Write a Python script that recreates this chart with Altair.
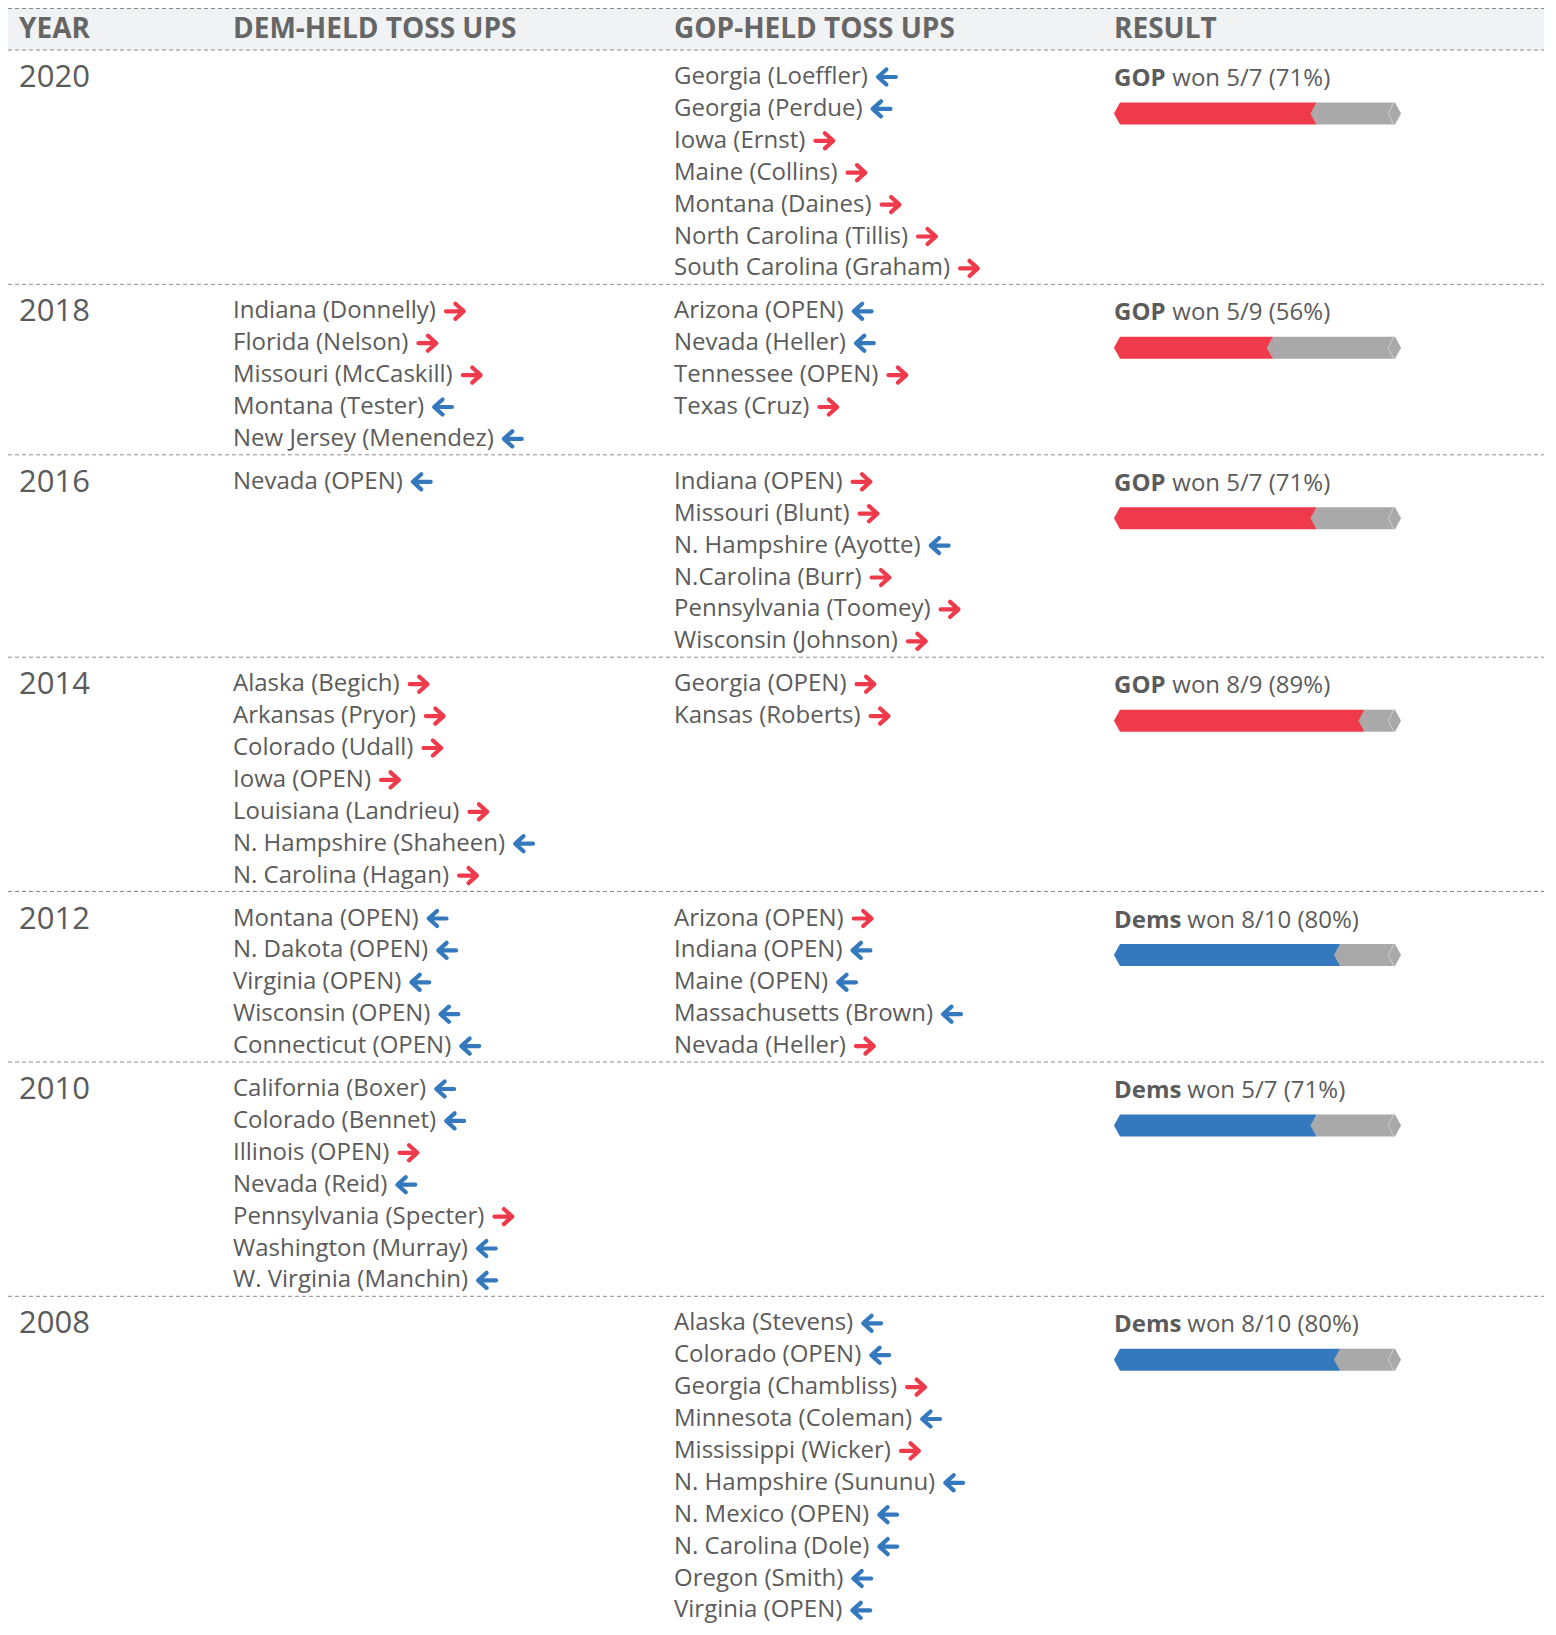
import os
import glob
import struct
import subprocess
import altair as alt
import pandas as pd

# ---------------- data ----------------
headers = ["YEAR", "DEM-HELD TOSS UPS", "GOP-HELD TOSS UPS", "RESULT"]
years = ["2020", "2018", "2016", "2014", "2012", "2010", "2008"]

# (race, who won it: "R" = GOP, "D" = Dems)
dem_2020 = []
gop_2020 = [("Georgia (Loeffler)", "D"), ("Georgia (Perdue)", "D"), ("Iowa (Ernst)", "R"),
            ("Maine (Collins)", "R"), ("Montana (Daines)", "R"), ("North Carolina (Tillis)", "R"),
            ("South Carolina (Graham)", "R")]
dem_2018 = [("Indiana (Donnelly)", "R"), ("Florida (Nelson)", "R"), ("Missouri (McCaskill)", "R"),
            ("Montana (Tester)", "D"), ("New Jersey (Menendez)", "D")]
gop_2018 = [("Arizona (OPEN)", "D"), ("Nevada (Heller)", "D"), ("Tennessee (OPEN)", "R"),
            ("Texas (Cruz)", "R")]
dem_2016 = [("Nevada (OPEN)", "D")]
gop_2016 = [("Indiana (OPEN)", "R"), ("Missouri (Blunt)", "R"), ("N. Hampshire (Ayotte)", "D"),
            ("N.Carolina (Burr)", "R"), ("Pennsylvania (Toomey)", "R"), ("Wisconsin (Johnson)", "R")]
dem_2014 = [("Alaska (Begich)", "R"), ("Arkansas (Pryor)", "R"), ("Colorado (Udall)", "R"),
            ("Iowa (OPEN)", "R"), ("Louisiana (Landrieu)", "R"), ("N. Hampshire (Shaheen)", "D"),
            ("N. Carolina (Hagan)", "R")]
gop_2014 = [("Georgia (OPEN)", "R"), ("Kansas (Roberts)", "R")]
dem_2012 = [("Montana (OPEN)", "D"), ("N. Dakota (OPEN)", "D"), ("Virginia (OPEN)", "D"),
            ("Wisconsin (OPEN)", "D"), ("Connecticut (OPEN)", "D")]
gop_2012 = [("Arizona (OPEN)", "R"), ("Indiana (OPEN)", "D"), ("Maine (OPEN)", "D"),
            ("Massachusetts (Brown)", "D"), ("Nevada (Heller)", "R")]
dem_2010 = [("California (Boxer)", "D"), ("Colorado (Bennet)", "D"), ("Illinois (OPEN)", "R"),
            ("Nevada (Reid)", "D"), ("Pennsylvania (Specter)", "R"), ("Washington (Murray)", "D"),
            ("W. Virginia (Manchin)", "D")]
gop_2010 = []
dem_2008 = []
gop_2008 = [("Alaska (Stevens)", "D"), ("Colorado (OPEN)", "D"), ("Georgia (Chambliss)", "R"),
            ("Minnesota (Coleman)", "D"), ("Mississippi (Wicker)", "R"), ("N. Hampshire (Sununu)", "D"),
            ("N. Mexico (OPEN)", "D"), ("N. Carolina (Dole)", "D"), ("Oregon (Smith)", "D"),
            ("Virginia (OPEN)", "D")]

dem_held = [dem_2020, dem_2018, dem_2016, dem_2014, dem_2012, dem_2010, dem_2008]
gop_held = [gop_2020, gop_2018, gop_2016, gop_2014, gop_2012, gop_2010, gop_2008]

result_party = ["GOP", "GOP", "GOP", "GOP", "Dems", "Dems", "Dems"]
result_won = [5, 5, 5, 8, 8, 5, 8]
result_total = [7, 9, 7, 9, 10, 7, 10]
result_pct = [71, 56, 71, 89, 80, 71, 80]

# ---------------- font metrics (to place arrows after the text) ----------------
FONT = "Open Sans"


def _font_reader(path):
    data = open(path, "rb").read()
    num = struct.unpack(">H", data[4:6])[0]
    tables = {}
    for i in range(num):
        tag, _cs, off, _ln = struct.unpack(">4sIII", data[12 + 16 * i:28 + 16 * i])
        tables[tag.decode("latin1")] = off
    upem = struct.unpack(">H", data[tables["head"] + 18:tables["head"] + 20])[0]
    nhm = struct.unpack(">H", data[tables["hhea"] + 34:tables["hhea"] + 36])[0]
    hm = tables["hmtx"]
    adv = [struct.unpack(">H", data[hm + 4 * i:hm + 4 * i + 2])[0] for i in range(nhm)]
    cm = tables["cmap"]
    n = struct.unpack(">H", data[cm + 2:cm + 4])[0]
    sub = None
    for i in range(n):
        pid, eid, off = struct.unpack(">HHI", data[cm + 4 + 8 * i:cm + 12 + 8 * i])
        s = cm + off
        if struct.unpack(">H", data[s:s + 2])[0] == 4 and pid in (0, 3):
            sub = s
            break
    segx2 = struct.unpack(">H", data[sub + 6:sub + 8])[0]
    seg = segx2 // 2
    ends = struct.unpack(">%dH" % seg, data[sub + 14:sub + 14 + segx2])
    so = sub + 16 + segx2
    starts = struct.unpack(">%dH" % seg, data[so:so + segx2])
    do = so + segx2
    deltas = struct.unpack(">%dh" % seg, data[do:do + segx2])
    ro = do + segx2
    ros = struct.unpack(">%dH" % seg, data[ro:ro + segx2])

    def gid(c):
        for k in range(seg):
            if ends[k] >= c:
                if starts[k] > c:
                    return 0
                if ros[k] == 0:
                    return (c + deltas[k]) & 0xFFFF
                a = ro + 2 * k + ros[k] + 2 * (c - starts[k])
                g = struct.unpack(">H", data[a:a + 2])[0]
                return (g + deltas[k]) & 0xFFFF if g else 0
        return 0

    def width(s):
        return sum(adv[min(gid(ord(ch)), nhm - 1)] for ch in s) / upem
    return width


def _find(bold):
    cands = []
    try:
        out = subprocess.run(["fc-match", "-f", "%{file}", FONT + (":bold" if bold else ":regular")],
                             capture_output=True, text=True, timeout=10).stdout.strip()
        if out:
            cands.append(out)
    except Exception:
        pass
    name = "OpenSans-Bold" if bold else "OpenSans-Regular"
    for root in ["/usr/share/fonts", "/usr/local/share/fonts", os.path.expanduser("~/.fonts"),
                 os.path.expanduser("~/.local/share/fonts")]:
        cands += glob.glob(os.path.join(root, "**", name + ".ttf"), recursive=True)
        cands += glob.glob(os.path.join(root, "**", "OpenSans*.ttf"), recursive=True)
    for c in cands:
        if "opensans" in os.path.basename(c).lower().replace("-", "").replace("_", "") and os.path.exists(c):
            try:
                return c, _font_reader(c)
            except Exception:
                continue
    return None, None


_reg_path, _reg = _find(False)
_bold_path, _bold = _find(True)


def text_w(s, size, bold=False):
    if bold:
        if _bold is not None and _bold_path != _reg_path:
            return _bold(s) * size
        if _reg is not None:
            return _reg(s) * size * 1.07
        return len(s) * size * 0.6
    if _reg is not None:
        return _reg(s) * size
    return len(s) * size * 0.56


# ---------------- layout / style ----------------
W, H = 1540, 1619
X0, Y0 = 8, 8
COL_X = [19, 233, 674, 1114]
LINE_RIGHT = 1544
HEADER_TOP, HEADER_BOTTOM = 8, 50
HEADER_Y = 30
LINE, PAD, FIRST = 31.9, 11.0, 27
BAR_L, BAR_R, CAP = 1114, 1401, 6
BAR_H = 22
ITEM_SIZE, YEAR_SIZE, HEAD_SIZE = 24, 31, 28
ARROW_SIZE, ARROW_GAP = 441, 19

RED, BLUE, GREY_BAR = "#ee3a4b", "#3478be", "#a9a9a9"
TEXT, HEAD_TEXT, HEAD_BG, DASH = "#5b5b5b", "#666666", "#f1f2f4", "#8a8a8a"

items, year_rows, res_rows, seps = [], [], [], [HEADER_BOTTOM]
top = HEADER_BOTTOM
for i, yr in enumerate(years):
    n = max(len(dem_held[i]), len(gop_held[i]), 1)
    for col, lst in ((1, dem_held[i]), (2, gop_held[i])):
        for j, (lab, w) in enumerate(lst):
            tw = text_w(lab, ITEM_SIZE)
            items.append(dict(x=COL_X[col], y=top + FIRST + j * LINE, label=lab,
                              winner=w, ax=COL_X[col] + tw + ARROW_GAP))
    year_rows.append(dict(x=COL_X[0], y=top + FIRST + 1, label=yr))
    share = result_won[i] / result_total[i]
    split = BAR_L + CAP + share * (BAR_R - BAR_L - 2 * CAP)
    cy = top + 63.5
    party = result_party[i]
    res_rows.append(dict(x=BAR_L, y=top + 29, party=party,
                         rest=f"won {result_won[i]}/{result_total[i]} ({result_pct[i]}%)",
                         rx=BAR_L + text_w(party, ITEM_SIZE, True) + text_w(" ", ITEM_SIZE) - 2,
                         win="R" if party == "GOP" else "D",
                         b0=BAR_L + CAP, split=split, b1=BAR_R - CAP, notch=BAR_R - CAP - 4,
                         cy=cy, ytop=cy - BAR_H / 2, ybot=cy + BAR_H / 2))
    top += n * LINE + PAD
    if i < len(years) - 1:
        seps.append(top)

items_df = pd.DataFrame(items)
years_df = pd.DataFrame(year_rows)
res_df = pd.DataFrame(res_rows)
seps_df = pd.DataFrame({"y": seps + [HEADER_TOP + 0.5], "x": X0, "x2": LINE_RIGHT})
head_df = pd.DataFrame({"x": COL_X, "y": HEADER_Y, "label": headers})
band_df = pd.DataFrame({"x": [X0], "x2": [LINE_RIGHT], "y": [HEADER_TOP], "y2": [HEADER_BOTTOM]})

xs = alt.Scale(domain=[X0, X0 + W], range=[0, W])
ys = alt.Scale(domain=[Y0, Y0 + H], range=[0, H])


def X(f):
    return alt.X(f"{f}:Q", scale=xs, axis=None)


def Y(f):
    return alt.Y(f"{f}:Q", scale=ys, axis=None)


win_color = alt.Color("winner:N", scale=alt.Scale(domain=["R", "D"], range=[RED, BLUE]), legend=None)

band = alt.Chart(band_df).mark_rect(color=HEAD_BG).encode(x=X("x"), x2="x2", y=Y("y"), y2="y2")
rules = alt.Chart(seps_df).mark_rule(color=DASH, strokeDash=[4, 3], strokeWidth=1).encode(
    x=X("x"), x2="x2", y=Y("y"))
head = alt.Chart(head_df).mark_text(align="left", baseline="middle", font=FONT, fontSize=HEAD_SIZE,
                                    fontWeight="bold", color=HEAD_TEXT).encode(
    x=X("x"), y=Y("y"), text="label:N")
yr_txt = alt.Chart(years_df).mark_text(align="left", baseline="middle", font=FONT, fontSize=YEAR_SIZE,
                                       color=TEXT).encode(x=X("x"), y=Y("y"), text="label:N")

base_items = alt.Chart(items_df)
labels = base_items.mark_text(align="left", baseline="middle", font=FONT, fontSize=ITEM_SIZE,
                              color=TEXT).encode(x=X("x"), y=Y("y"), text="label:N")
RIGHT_ARROW = "M-0.85,0 L0.75,0 M0.05,-0.72 L0.85,0 L0.05,0.72"
LEFT_ARROW = "M0.85,0 L-0.75,0 M-0.05,-0.72 L-0.85,0 L-0.05,0.72"
arrow_r = base_items.transform_filter(alt.datum.winner == "R").mark_point(
    shape=RIGHT_ARROW, size=ARROW_SIZE, filled=False, opacity=1, strokeWidth=4.2,
    strokeCap="round", strokeJoin="round").encode(x=X("ax"), y=Y("y"), color=win_color)
arrow_d = base_items.transform_filter(alt.datum.winner == "D").mark_point(
    shape=LEFT_ARROW, size=ARROW_SIZE, filled=False, opacity=1, strokeWidth=4.2,
    strokeCap="round", strokeJoin="round").encode(x=X("ax"), y=Y("y"), color=win_color)

base_res = alt.Chart(res_df)
res_party = base_res.mark_text(align="left", baseline="middle", font=FONT, fontSize=ITEM_SIZE,
                               fontWeight="bold", color=TEXT).encode(x=X("x"), y=Y("y"), text="party:N")
res_rest = base_res.mark_text(align="left", baseline="middle", font=FONT, fontSize=ITEM_SIZE,
                              color=TEXT).encode(x=X("rx"), y=Y("y"), text="rest:N")
res_color = alt.Color("win:N", scale=alt.Scale(domain=["R", "D"], range=[RED, BLUE]), legend=None)
bar_win = base_res.mark_rect().encode(x=X("b0"), x2="split", y=Y("ytop"), y2="ybot", color=res_color)
bar_rest = base_res.mark_rect(color=GREY_BAR).encode(x=X("split"), x2="b1", y=Y("ytop"), y2="ybot")
CAP_SIZE = BAR_H * BAR_H
left_shape = "M0,-1 L-0.55,0 L0,1 Z"
right_shape = "M0,-1 L0.55,0 L0,1 Z"
cap_l = base_res.mark_point(shape=left_shape, size=CAP_SIZE, filled=True, opacity=1,
                            strokeWidth=0).encode(x=X("b0"), y=Y("cy"), color=res_color)
cap_mid = base_res.mark_point(shape=left_shape, size=CAP_SIZE, filled=True, opacity=1,
                              strokeWidth=0, color=GREY_BAR).encode(x=X("split"), y=Y("cy"))
cap_r = base_res.mark_point(shape=right_shape, size=CAP_SIZE, filled=True, opacity=1,
                            strokeWidth=0, color=GREY_BAR).encode(x=X("b1"), y=Y("cy"))
notch = base_res.mark_point(shape="M0.25,-1 L-0.25,0 L0.25,1", size=CAP_SIZE, filled=False,
                            opacity=1, strokeWidth=1, color="#cfcfcf").encode(x=X("notch"), y=Y("cy"))

chart = alt.layer(band, rules, head, yr_txt, labels, arrow_r, arrow_d,
                  res_party, res_rest, bar_win, bar_rest, cap_l, cap_mid, cap_r, notch).properties(
    width=W, height=H, autosize=alt.AutoSizeParams(type="none"), padding=0,
    background="white").configure_view(stroke=None)

chart.save("out.html", embed_options={"renderer": "svg", "actions": False})
